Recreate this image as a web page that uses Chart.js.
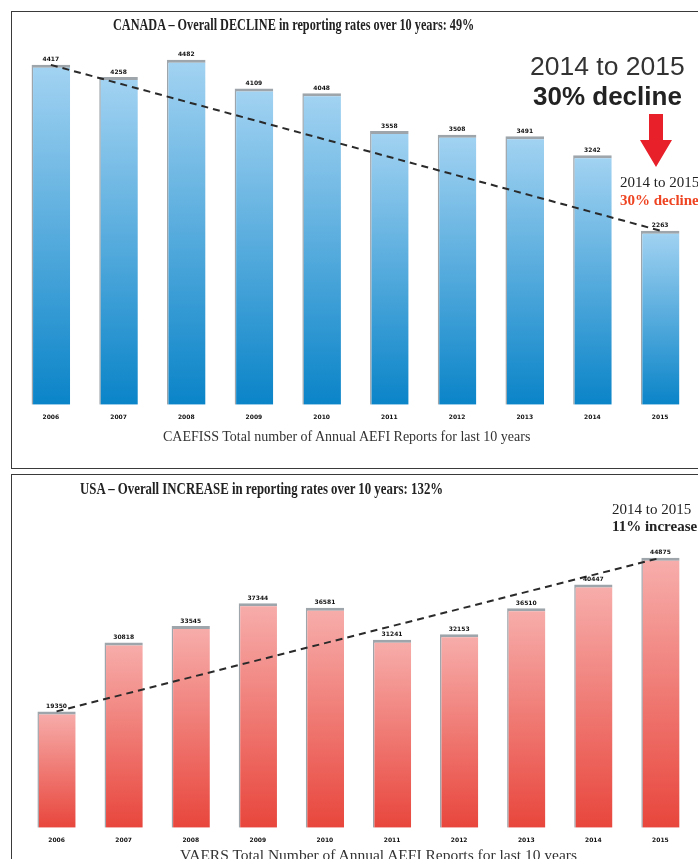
<!DOCTYPE html>
<html>
<head>
<meta charset="utf-8">
<script src="https://cdn.jsdelivr.net/npm/chart.js@4.4.1/dist/chart.umd.min.js"></script>
<style>
    html, body { margin: 0; padding: 0; background: #fff; width: 698px; height: 859px; overflow: hidden; }
    #page { position: relative; width: 698px; height: 859px; overflow: hidden; }
    .panel { position: absolute; border: 1.5px solid #3a3a3a; }
    canvas { position: absolute; }
    .txt { position: absolute; white-space: nowrap; color: #222; line-height: 1; transform-origin: left top; }
    .serif { font-family: "Liberation Serif", "DejaVu Serif", serif; }
    .sans { font-family: "Liberation Sans", Arial, sans-serif; }
</style>
</head>
<body>
<div id="page">
    <div class="panel" style="left:11px; top:11px; width:720px; height:456px"></div>
    <div class="panel" style="left:11px; top:474px; width:720px; height:420px"></div>

    <canvas id="caChart" width="698" height="470" style="left:0; top:0"></canvas>
    <canvas id="usChart" width="698" height="385" style="left:0; top:474px"></canvas>

    <!-- Canada texts -->
    <div class="txt serif" style="left:113px; top:16px; font-size:17px; font-weight:bold; transform:scaleX(0.72)">CANADA – Overall DECLINE in reporting rates over 10 years: 49%</div>
    <div class="txt sans" style="left:530px; top:53px; font-size:26.5px; color:#333">2014 to 2015</div>
    <div class="txt sans" style="left:533px; top:83px; font-size:26px; font-weight:bold; color:#222">30% decline</div>
    <svg style="position:absolute; left:639px; top:114px" width="34" height="54">
        <polygon points="10,0 24,0 24,26 33,26 17,53 1,26 10,26" fill="#e8202a"></polygon>
    </svg>
    <div class="txt serif" style="left:620px; top:175px; font-size:15px">2014 to 2015</div>
    <div class="txt serif" style="left:620px; top:193px; font-size:15px; font-weight:bold; color:#ee4422">30% decline</div>
    <div class="txt serif" style="left:163px; top:430px; font-size:14px; color:#333">CAEFISS Total number of Annual AEFI Reports for last 10 years</div>

    <!-- USA texts -->
    <div class="txt serif" style="left:80px; top:480px; font-size:17px; font-weight:bold; transform:scaleX(0.755)">USA – Overall INCREASE in reporting rates over 10 years: 132%</div>
    <div class="txt serif" style="left:612px; top:502px; font-size:15px">2014 to 2015</div>
    <div class="txt serif" style="left:612px; top:519px; font-size:15px; font-weight:bold">11% increase</div>
    <div class="txt serif" style="left:180px; top:847px; font-size:15.5px; color:#333">VAERS Total Number of Annual AEFI Reports for last 10 years</div>
</div>

<script>
// Years shown under both charts
const years = ["2006", "2007", "2008", "2009", "2010", "2011", "2012", "2013", "2014", "2015"];

// CAEFISS (Canada) annual AEFI reports
const canadaReports = [4417, 4258, 4482, 4109, 4048, 3558, 3508, 3491, 3242, 2263];

// VAERS (USA) annual AEFI reports
const usaReports = [19350, 30818, 33545, 37344, 36581, 31241, 32153, 36510, 40447, 44875];

// trend line only joins first and last year
function trendOf(values) {
    return values.map((v, i) => (i === 0 || i === values.length - 1 ? v : null));
}

// light at bar top, dark at bar bottom
function barGradient(topColor, bottomColor) {
    return (c) => {
        const chart = c.chart;
        const y = chart.scales.y;
        if (!y || c.raw == null) return bottomColor;
        const top = y.getPixelForValue(c.raw);
        const bottom = y.getPixelForValue(0);
        if (!isFinite(top) || !isFinite(bottom) || top === bottom) return bottomColor;
        const g = chart.ctx.createLinearGradient(0, top, 0, bottom);
        g.addColorStop(0, topColor);
        g.addColorStop(1, bottomColor);
        return g;
    };
}

const valueLabels = {
    id: "valueLabels",
    afterDatasetsDraw(chart) {
        const ctx = chart.ctx;
        const meta = chart.getDatasetMeta(0);
        const values = chart.data.datasets[0].data;
        ctx.save();
        ctx.font = 'bold 6px "DejaVu Sans"';
        ctx.fillStyle = "#111";
        ctx.textAlign = "center";
        ctx.textBaseline = "bottom";
        meta.data.forEach((bar, i) => {
            ctx.fillText(values[i], bar.x, bar.y - 2);
        });
        ctx.restore();
    },
};

function makeChart(id, values, yMax, colors, padding) {
    const ctx = document.getElementById(id).getContext("2d");
    return new Chart(ctx, {
        type: "bar",
        data: {
            labels: years,
            datasets: [
                {
                    type: "bar",
                    data: values,
                    backgroundColor: barGradient(colors[0], colors[1]),
                    borderColor: "#9ea5ab",
                    borderWidth: { top: 3, left: 1.5, right: 0, bottom: 0 },
                    borderSkipped: false,
                    barPercentage: 0.57,
                    categoryPercentage: 1,
                    order: 1,
                },
                {
                    type: "line",
                    data: trendOf(values),
                    spanGaps: true,
                    borderColor: "#2a2a2a",
                    borderWidth: 2,
                    borderDash: [7, 5],
                    pointRadius: 0,
                    fill: false,
                    order: 0,
                },
            ],
        },
        options: {
            responsive: false,
            animation: false,
            layout: { padding: padding },
            plugins: {
                legend: { display: false },
                tooltip: { enabled: false },
            },
            scales: {
                x: {
                    grid: { display: false, drawTicks: false },
                    border: { display: false },
                    ticks: {
                        padding: 9,
                        color: "#111",
                        font: { family: "DejaVu Sans", size: 6, weight: "bold" },
                    },
                },
                y: {
                    display: false,
                    min: 0,
                    max: yMax,
                },
            },
        },
        plugins: [valueLabels],
    });
}

makeChart("caChart", canadaReports, 5000, ["#a3d3f2", "#0a84c8"], { left: 17, right: 4, top: 20, bottom: 40 });
makeChart("usChart", usaReports, 50000, ["#f7aeac", "#e8463c"], { left: 23, right: 4, top: 53, bottom: 6 });
</script>
</body>
</html>
